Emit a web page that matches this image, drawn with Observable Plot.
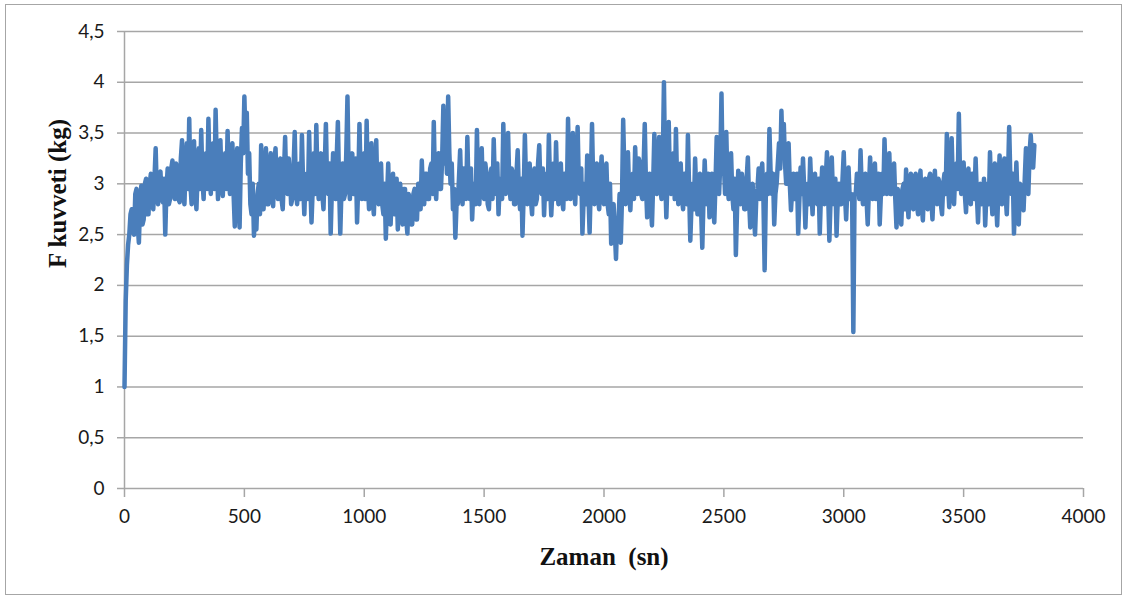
<!DOCTYPE html>
<html>
<head>
<meta charset="utf-8">
<script src="https://cdn.jsdelivr.net/npm/d3@7"></script>
<script src="https://cdn.jsdelivr.net/npm/@observablehq/plot@0.6"></script>
<style>
  body { margin: 0; background: #fff; }
  #wrap { position: relative; width: 1126px; height: 598px; overflow: hidden; }
  #frame { position: absolute; left: 5px; top: 4px; width: 1117px; height: 591px; border: 1px solid #a6a6a6; box-sizing: border-box; pointer-events: none; }
  #chart { position: absolute; left: 0; top: 0; }
</style>
</head>
<body>
<div id="wrap"><div id="frame"></div><div id="chart"></div></div>
<script>
// Sampling interval of the logger (s)
const sampleStep = 5;

// F force (kg), one reading every 5 s, from t = 0 s to t = 3795 s (20 readings = 100 s per row)
const force = [
  1.00,1.85,2.20,2.40,2.50,2.70,2.75,2.55,2.50,2.90,2.95,2.60,2.42,2.80,2.98,2.60,2.65,3.00,3.05,2.70,
  2.70,3.00,3.10,2.80,2.75,3.05,3.35,2.90,2.80,3.10,3.12,2.85,2.82,3.05,2.50,2.95,3.15,2.80,2.85,3.15,
  3.23,2.90,2.85,3.20,3.15,2.85,2.82,3.25,3.43,2.90,2.80,3.20,3.40,2.95,3.64,3.00,2.80,3.20,3.42,2.95,
  2.75,3.10,3.35,2.95,3.53,3.05,2.85,3.25,3.30,2.95,3.64,3.10,2.90,3.30,3.40,2.95,3.73,3.20,2.85,3.25,
  3.43,3.00,2.88,3.20,3.30,2.95,3.52,3.05,2.90,3.25,3.40,2.90,2.58,3.10,3.35,2.85,2.57,3.20,3.55,3.30,
  3.86,3.40,3.70,3.10,3.30,2.80,2.70,3.00,2.49,2.75,2.55,2.90,3.00,2.70,3.38,2.85,2.75,3.15,3.35,2.80,
  2.80,3.15,3.30,2.90,2.78,3.20,3.35,2.95,2.85,3.15,3.25,2.85,2.75,3.10,3.46,2.95,2.90,3.25,3.10,2.80,
  2.85,3.15,3.51,2.95,2.80,3.10,3.20,2.85,3.48,3.00,2.70,3.05,3.10,2.85,3.51,3.00,2.62,2.95,3.30,2.90,
  3.58,3.05,2.85,3.20,3.30,2.90,2.75,3.15,3.59,3.00,2.90,3.20,2.51,2.95,3.30,2.90,2.85,3.25,3.61,3.00,
  2.51,2.95,3.20,2.85,2.90,3.30,3.86,3.10,2.85,3.20,3.30,2.90,2.90,3.25,2.62,3.00,3.59,3.05,2.85,3.20,
  3.30,2.85,3.62,3.00,2.75,3.15,3.40,2.85,2.70,3.05,3.43,2.90,2.80,3.15,3.20,2.80,2.70,3.00,2.46,2.85,
  3.20,2.75,2.60,2.95,3.10,2.70,2.70,3.05,2.55,2.85,3.00,2.70,2.60,2.95,2.95,2.65,2.51,2.90,2.85,2.60,
  2.60,2.90,2.95,2.65,2.65,3.00,3.00,2.75,3.23,2.90,2.80,3.10,3.10,2.85,2.85,3.15,3.20,2.90,3.61,3.00,
  2.85,3.15,3.30,2.95,2.95,3.25,3.77,3.20,3.40,3.10,3.86,3.30,3.00,3.20,2.75,2.95,2.47,2.80,2.80,3.05,
  3.33,2.90,2.80,3.15,3.10,2.85,3.46,2.95,2.85,3.15,2.65,2.95,3.00,2.80,3.53,2.95,2.80,3.10,3.35,2.90,
  2.85,3.20,3.10,2.80,2.75,3.05,3.15,2.85,3.44,3.00,2.90,3.20,2.70,3.00,3.05,2.85,3.59,3.10,2.90,3.20,
  3.50,3.00,2.85,3.15,3.10,2.80,2.80,3.10,3.33,2.90,2.75,3.05,2.49,2.90,3.48,3.00,2.80,3.10,3.20,2.85,
  2.70,3.05,3.15,2.80,2.85,3.20,3.38,2.95,2.90,3.15,2.69,3.00,3.10,2.85,3.48,3.00,2.69,2.95,3.20,2.85,
  3.41,2.95,2.80,3.10,3.20,2.85,2.75,3.10,3.10,2.85,3.64,3.05,2.85,3.20,3.50,2.95,2.80,3.15,3.56,3.00,
  2.90,3.15,2.51,2.85,3.00,2.80,3.28,2.90,2.52,3.00,3.59,3.00,2.80,3.10,3.20,2.85,2.75,3.05,3.27,2.85,
  2.80,3.10,3.20,2.80,2.70,3.00,2.41,2.75,2.80,2.55,2.26,2.65,2.60,2.90,2.42,2.85,3.63,3.10,2.80,3.15,
  3.31,2.90,2.74,3.05,3.10,2.85,3.36,3.00,2.90,3.25,3.20,2.90,2.85,3.15,3.59,3.00,2.67,2.95,3.10,2.80,
  2.59,3.00,3.49,2.95,2.90,3.25,3.46,2.95,2.85,3.20,4.00,3.10,2.67,3.05,3.61,3.00,2.90,3.20,3.30,2.85,
  3.54,3.00,2.80,3.15,3.20,2.85,2.75,3.10,3.10,2.80,3.48,2.95,2.44,2.80,3.00,2.75,3.25,2.90,2.70,3.05,
  3.10,2.75,2.37,2.85,3.23,2.90,2.80,3.10,2.67,2.95,3.10,2.80,2.62,3.00,3.46,3.00,2.90,3.20,3.89,3.10,
  3.20,2.90,3.51,3.00,2.85,3.15,3.30,2.90,2.75,3.05,2.30,2.75,3.13,2.85,2.80,3.10,3.00,2.75,2.75,3.05,
  3.26,2.85,2.57,2.95,3.00,2.70,2.50,2.85,2.95,3.15,2.85,3.10,3.20,2.85,2.15,2.90,3.10,2.90,3.54,3.10,
  2.90,3.10,2.60,2.90,3.00,3.20,3.40,3.15,3.72,3.30,3.59,3.20,3.00,3.25,3.40,3.00,2.74,2.95,3.10,2.85,
  2.90,3.10,2.51,2.85,3.16,2.90,3.25,2.95,2.57,2.90,3.00,2.80,3.25,2.95,2.70,3.05,3.10,2.85,2.80,3.05,
  2.51,2.90,3.16,2.85,2.80,3.05,3.31,2.90,2.44,2.85,3.26,2.90,2.80,3.05,2.49,2.85,3.00,2.80,2.80,3.05,
  3.31,2.90,2.65,2.95,3.16,2.85,2.90,2.85,1.54,2.90,2.90,3.10,3.00,2.85,3.33,2.95,2.80,3.05,3.10,2.85,
  2.60,2.95,3.26,2.90,2.85,3.10,3.20,2.85,2.90,3.10,2.60,2.90,3.10,2.90,3.44,3.05,2.90,3.15,3.30,2.90,
  2.90,3.10,3.20,2.85,2.57,2.95,2.90,2.70,2.60,2.95,3.00,2.75,3.14,2.85,2.67,3.00,3.10,2.80,2.75,3.05,
  3.10,2.80,2.70,3.00,3.13,2.80,2.64,2.95,3.05,2.80,2.75,3.05,3.10,2.85,2.65,2.95,3.13,2.85,2.80,3.05,
  3.00,2.80,2.70,3.00,3.10,2.90,3.49,3.00,2.77,3.10,3.45,3.00,2.80,3.10,3.20,2.95,3.69,3.10,2.90,3.15,
  3.21,2.90,2.72,3.05,3.15,2.85,2.80,3.10,3.10,2.85,3.25,2.90,2.62,2.95,3.00,2.80,2.85,3.05,2.59,2.90,
  3.00,2.80,3.31,2.90,2.70,3.00,3.20,2.85,2.59,2.95,3.28,2.90,2.80,3.10,3.25,2.90,2.70,3.05,3.56,3.05,
  2.90,3.10,2.51,2.85,3.21,2.85,2.60,3.00,2.95,2.80,2.74,3.05,3.35,3.00,2.90,3.30,3.48,3.25,3.16,3.38
];

const yTicks = [0, 0.5, 1, 1.5, 2, 2.5, 3, 3.5, 4, 4.5];
const xTicks = [0, 500, 1000, 1500, 2000, 2500, 3000, 3500, 4000];
const xTitle = "Zaman  (sn)";
const yTitle = "F kuvveti (kg)";

const data = force.map((v, i) => ({ t: i * sampleStep, v }));

const gridColor = "#a6a6a6";

const chart = Plot.plot({
  width: 1126,
  height: 598,
  marginLeft: 124,
  marginRight: 43,
  marginTop: 31,
  marginBottom: 110,
  x: { domain: [0, 4000] },
  y: { domain: [0, 4.5] },
  style: { fontFamily: "Lato, sans-serif", fontSize: "19px", color: "#1a1a1a", background: "transparent", overflow: "visible" },
  marks: [
    Plot.ruleY(yTicks.filter(d => d > 0), { stroke: gridColor, strokeWidth: 1.5 }),
    Plot.axisY({
      ticks: yTicks, tickSize: 7, tickPadding: 13,
      tickFormat: d => String(d).replace(".", ","),
      stroke: gridColor, strokeWidth: 1.5, fill: "#1a1a1a", label: null
    }),
    Plot.axisX({
      ticks: xTicks, tickSize: 9, tickPadding: 12,
      tickFormat: d => String(d),
      stroke: gridColor, strokeWidth: 1.5, fill: "#1a1a1a", label: null
    }),
    Plot.ruleX([0], { stroke: gridColor, strokeWidth: 1.5 }),
    Plot.ruleY([0], { stroke: gridColor, strokeWidth: 1.5 }),
    Plot.line(data, { x: "t", y: "v", stroke: "#4a7ebb", strokeWidth: 4.5, strokeLinejoin: "round", strokeLinecap: "round" }),
    Plot.text([xTitle], {
      frameAnchor: "bottom", dy: 68, lineAnchor: "middle",
      fontFamily: "Liberation Serif, serif", fontWeight: "bold", fontSize: 25, fill: "#111"
    }),
    Plot.text([yTitle], {
      frameAnchor: "left", dx: -67, dy: 8, rotate: -90, lineAnchor: "middle",
      fontFamily: "Liberation Serif, serif", fontWeight: "bold", fontSize: 25, fill: "#111"
    })
  ]
});

document.getElementById("chart").appendChild(chart);
</script>
</body>
</html>
